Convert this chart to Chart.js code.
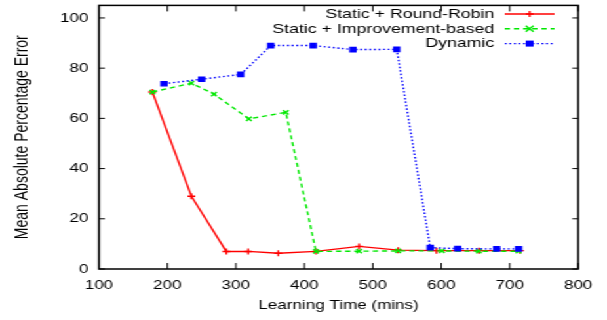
<!DOCTYPE html>
<html>
<head>
<meta charset="utf-8">
<script src="https://cdn.jsdelivr.net/npm/chart.js@4.4.1/dist/chart.umd.min.js"></script>
<style>
  html, body { margin: 0; padding: 0; background: #fff; overflow: hidden; }
  #wrap { position: relative; width: 463px; height: 320px; transform: scaleX(1.311); transform-origin: 0 0; }
  #chart, #frame { position: absolute; left: 0; top: 0; }
  #frame { pointer-events: none; }
</style>
</head>
<body>
<div id="wrap">
  <canvas id="chart" width="463" height="320"></canvas>
  <canvas id="frame" width="463" height="320"></canvas>
</div>
<script>
// Learning time (mins) and MAPE for each scheme
const rrTime = [178, 235, 286, 318, 362, 417, 480, 537, 593, 655, 715];
const rrError = [70.5, 29, 7, 7, 6.3, 7, 9, 7.5, 7.3, 7.3, 7.3];

const impTime = [178, 235, 268, 319, 373, 417, 480, 537, 601, 655, 713];
const impError = [70.5, 74, 69.7, 59.8, 62.4, 7, 7.1, 7.2, 7.2, 7.1, 7.1];

const dynTime = [195, 250, 307, 351, 413, 471, 535, 584, 624, 681, 713];
const dynError = [73.8, 75.6, 77.5, 89, 89, 87.4, 87.5, 8.5, 8.1, 8, 8];

const seriesNames = ["Static + Round-Robin", "Static + Improvement-based", "Dynamic"];
const xTicks = [100, 200, 300, 400, 500, 600, 700, 800];
const yTicks = [0, 20, 40, 60, 80, 100];

const FONT = "'Liberation Sans', Arial, Helvetica, sans-serif";

const toPoints = (xs, ys) => xs.map((x, i) => ({ x, y: ys[i] }));

const series = [
  { label: seriesNames[0], data: toPoints(rrTime, rrError), color: "#ff0000", dash: [], style: "cross", order: 2 },
  { label: seriesNames[1], data: toPoints(impTime, impError), color: "#00e800", dash: [4, 3], style: "crossRot", order: 1 },
  { label: seriesNames[2], data: toPoints(dynTime, dynError), color: "#0000ff", dash: [1.5, 2], style: "rect", order: 0 },
];

function marker(ctx, style, x, y, r) {
  ctx.beginPath();
  if (style === "cross") {
    ctx.moveTo(x - r, y); ctx.lineTo(x + r, y);
    ctx.moveTo(x, y - r); ctx.lineTo(x, y + r);
    ctx.stroke();
  } else if (style === "crossRot") {
    ctx.moveTo(x - r, y - r); ctx.lineTo(x + r, y + r);
    ctx.moveTo(x - r, y + r); ctx.lineTo(x + r, y - r);
    ctx.stroke();
  } else {
    ctx.fillRect(x - r, y - r, 2 * r, 2 * r);
  }
}

// frame + inward ticks go on an overlay canvas, using the chart's own scales
function drawFrame(chart) {
  const fc = document.getElementById("frame").getContext("2d");
  const a = chart.chartArea;
  const xs = chart.scales.x;
  const ys = chart.scales.y;
  fc.clearRect(0, 0, 463, 320);
  fc.strokeStyle = "#000";
  fc.lineWidth = 1.5;
  fc.strokeRect(a.left, a.top, a.right - a.left, a.bottom - a.top);
  fc.lineWidth = 1;
  fc.beginPath();
  xTicks.forEach((v) => {
    const px = xs.getPixelForValue(v);
    fc.moveTo(px, a.bottom);
    fc.lineTo(px, a.bottom - 6);
    fc.moveTo(px, a.top);
    fc.lineTo(px, a.top + 6);
  });
  yTicks.forEach((v) => {
    const py = ys.getPixelForValue(v);
    fc.moveTo(a.left, py);
    fc.lineTo(a.left + 4.5, py);
    fc.moveTo(a.right, py);
    fc.lineTo(a.right - 4.5, py);
  });
  fc.stroke();
}

const keyPlugin = {
  id: "key",
  afterDraw(chart) {
    const { ctx } = chart;
    const textRight = 377;
    const lineStart = 385;
    const lineEnd = 423;
    ctx.save();
    ctx.font = "13.5px " + FONT;
    ctx.textAlign = "right";
    ctx.textBaseline = "middle";
    series.forEach((s, i) => {
      const y = 14 + i * 14.8;
      ctx.fillStyle = "#000";
      ctx.fillText(s.label, textRight, y);
      ctx.strokeStyle = s.color;
      ctx.fillStyle = s.color;
      ctx.lineWidth = 1.4;
      ctx.setLineDash(s.dash);
      ctx.beginPath();
      ctx.moveTo(lineStart, y);
      ctx.lineTo(lineEnd, y);
      ctx.stroke();
      ctx.setLineDash([]);
      marker(ctx, s.style, (lineStart + lineEnd) / 2, y, 3);
    });
    ctx.restore();
    drawFrame(chart);
  },
};

new Chart(document.getElementById("chart"), {
  type: "line",
  data: {
    datasets: series.map((s) => ({
      label: s.label,
      data: s.data,
      order: s.order,
      borderColor: s.color,
      backgroundColor: s.color,
      borderWidth: 1.4,
      borderDash: s.dash,
      pointStyle: s.style,
      pointRadius: 3,
      pointBorderWidth: 1.4,
      pointBackgroundColor: s.color,
      pointBorderColor: s.color,
      tension: 0,
      fill: false,
    })),
  },
  options: {
    responsive: false,
    animation: false,
    devicePixelRatio: 1,
    events: [],
    layout: { padding: { top: 3, right: 22, bottom: 0, left: 0 } },
    plugins: {
      legend: { display: false },
      tooltip: { enabled: false },
    },
    scales: {
      x: {
        type: "linear",
        min: 100,
        max: 800,
        afterBuildTicks: (scale) => { scale.ticks = xTicks.map((v) => ({ value: v })); },
        afterFit: (scale) => { scale.height = 51; scale.paddingLeft = 0; scale.paddingRight = 0; },
        grid: { display: false, drawTicks: false },
        border: { display: false },
        ticks: { color: "#000", padding: 9, maxRotation: 0, font: { family: FONT, size: 13 } },
        title: {
          display: true,
          text: "Learning Time (mins)",
          color: "#000",
          font: { family: FONT, size: 13 },
          padding: { top: 0, bottom: 7 },
        },
      },
      y: {
        min: 0,
        max: 105,
        afterBuildTicks: (scale) => { scale.ticks = yTicks.map((v) => ({ value: v })); },
        afterFit: (scale) => { scale.width = 75.5; scale.paddingTop = 0; scale.paddingBottom = 0; },
        grid: { display: false, drawTicks: false },
        border: { display: false },
        ticks: { color: "#000", padding: 8, font: { family: FONT, size: 13 } },
        title: {
          display: true,
          text: "Mean Absolute Percentage Error",
          color: "#000",
          font: { family: FONT, size: 14 },
          padding: { top: 9, bottom: 0 },
        },
      },
    },
  },
  plugins: [keyPlugin],
});
</script>
</body>
</html>
